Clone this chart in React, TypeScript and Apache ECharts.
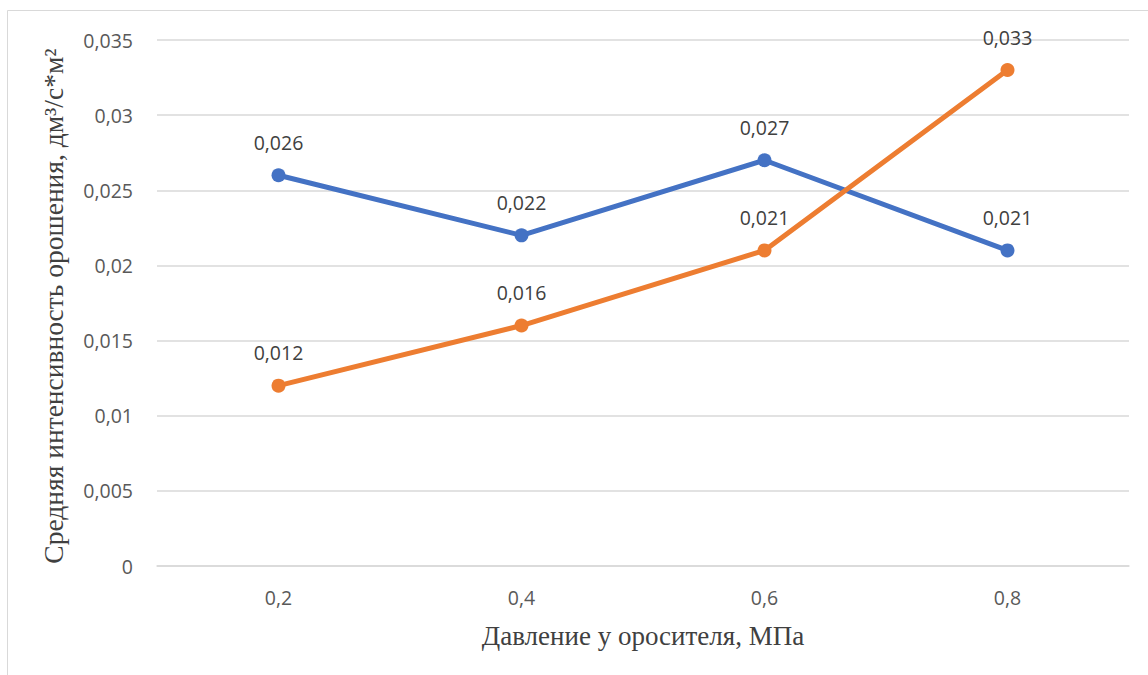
import React, { useEffect, useRef } from "react";
import * as echarts from "echarts";

// Давление у оросителя, МПа
const pressures = ["0,2", "0,4", "0,6", "0,8"];
// Средняя интенсивность орошения, дм³/с*м²
const seriesA = [0.026, 0.022, 0.027, 0.021];
const seriesB = [0.012, 0.016, 0.021, 0.033];

const yTitle = "Средняя интенсивность орошения, дм³/с*м²";
const xTitle = "Давление у оросителя, МПа";

const comma = (v: number) => String(v).replace(".", ",");

const sansFont = "'Open Sans', 'Noto Sans', sans-serif";
const serifFont = "'Liberation Serif', 'DejaVu Serif', serif";

export default function App() {
  const ref = useRef<HTMLDivElement>(null);

  useEffect(() => {
    if (!ref.current) return;
    const chart = echarts.init(ref.current, null, { renderer: "svg" });

    const labelStyle = {
      show: true,
      position: "top" as const,
      distance: 16,
      color: "#404040",
      fontFamily: sansFont,
      fontSize: 19.5,
      formatter: (p: any) => comma(p.value),
    };

    chart.setOption({
      animation: false,
      backgroundColor: "#ffffff",
      grid: { left: 157, right: 19, top: 40, bottom: 109 },
      graphic: [
        {
          type: "rect",
          shape: { x: 7.5, y: 10.5, width: 1160, height: 700 },
          style: { fill: "none", stroke: "#d9d9d9", lineWidth: 1 },
          silent: true,
        },
        {
          type: "text",
          x: 53,
          y: 306,
          rotation: Math.PI / 2,
          style: {
            text: yTitle,
            fontFamily: serifFont,
            fontSize: 27.5,
            fill: "#404040",
            align: "center",
            verticalAlign: "middle",
          },
          silent: true,
        },
        {
          type: "text",
          x: 643,
          y: 636,
          style: {
            text: xTitle,
            fontFamily: serifFont,
            fontSize: 27,
            fill: "#404040",
            align: "center",
            verticalAlign: "middle",
          },
          silent: true,
        },
      ],
      xAxis: {
        type: "category",
        data: pressures,
        boundaryGap: true,
        axisLine: { show: true, lineStyle: { color: "#d9d9d9", width: 1.5 } },
        axisTick: { show: false },
        axisLabel: {
          color: "#595959",
          fontFamily: sansFont,
          fontSize: 19.5,
          margin: 21,
        },
      },
      yAxis: {
        type: "value",
        min: 0,
        max: 0.035,
        interval: 0.005,
        axisLine: { show: false },
        axisTick: { show: false },
        splitLine: { lineStyle: { color: "#d9d9d9", width: 1.5 } },
        axisLabel: {
          color: "#595959",
          fontFamily: sansFont,
          fontSize: 19.5,
          margin: 24,
          formatter: (v: number) => comma(Number(v.toFixed(3))),
        },
      },
      series: [
        {
          type: "line",
          data: seriesA,
          color: "#4472C4",
          lineStyle: { width: 5, color: "#4472C4" },
          symbol: "circle",
          symbolSize: 14,
          itemStyle: { color: "#4472C4" },
          label: labelStyle,
          z: 2,
        },
        {
          type: "line",
          data: seriesB,
          color: "#ED7D31",
          lineStyle: { width: 5, color: "#ED7D31" },
          symbol: "circle",
          symbolSize: 14,
          itemStyle: { color: "#ED7D31" },
          label: labelStyle,
          z: 3,
        },
      ],
    });

    return () => chart.dispose();
  }, []);

  return (
    <div
      ref={ref}
      style={{ position: "fixed", left: 0, top: 0, width: 1148, height: 675 }}
    />
  );
}
